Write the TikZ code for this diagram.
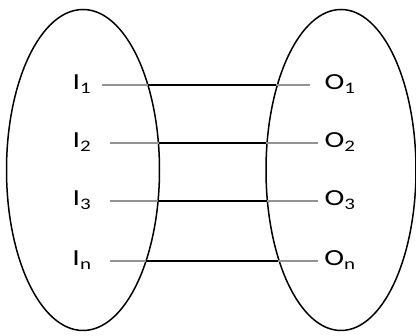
\documentclass[tikz,border=0pt]{standalone}
\usepackage{fontspec}
\setmainfont{Carlito}
\newfontfamily\lblfont[FakeStretch=1.3]{Carlito}
\usetikzlibrary{shapes.geometric}
\begin{document}
\begin{tikzpicture}[x=1pt,y=-1pt,
  setell/.style={draw=black,line width=1.5pt,ellipse,inner sep=0pt},
  lbl/.style={font=\lblfont\fontsize{23}{26}\selectfont,inner sep=0pt,anchor=base},
  grayline/.style={draw=gray!85,line width=1.4pt},
  blackline/.style={draw=black,line width=1.4pt}]
\useasboundingbox (0,0) rectangle (416,336);
\node[setell,minimum width=153pt,minimum height=321pt] (L) at (83,170) {};
\node[setell,minimum width=150pt,minimum height=321pt] (R) at (341,170) {};
% labels
\node[lbl] (i1) at (82,90) {I\textsubscript{1}};
\node[lbl] (i2) at (82,148) {I\textsubscript{2}};
\node[lbl] (i3) at (82,206) {I\textsubscript{3}};
\node[lbl] (in) at (82,266) {I\textsubscript{n}};
\node[lbl] (o1) at (340,90) {O\textsubscript{1}};
\node[lbl] (o2) at (340,148) {O\textsubscript{2}};
\node[lbl] (o3) at (340,206) {O\textsubscript{3}};
\node[lbl] (on) at (340,266) {O\textsubscript{n}};
% line endpoints
\coordinate (a1) at (102,85);  \coordinate (b1) at (310,85);
\coordinate (a2) at (110,143); \coordinate (b2) at (318,143);
\coordinate (a3) at (110,201); \coordinate (b3) at (318,201);
\coordinate (an) at (110,261); \coordinate (bn) at (318,261);
\coordinate (c1) at (148,85);  \coordinate (d1) at (276,85);
\coordinate (c2) at (159,143); \coordinate (d2) at (266,143);
\coordinate (c3) at (158,201); \coordinate (d3) at (267,201);
\coordinate (cn) at (146,261); \coordinate (dn) at (278,261);
\foreach \k in {1,2,3,n}{
  \draw[grayline] (a\k) -- (b\k);
  \draw[blackline] (c\k) -- (d\k);
}
\end{tikzpicture}
\end{document}
